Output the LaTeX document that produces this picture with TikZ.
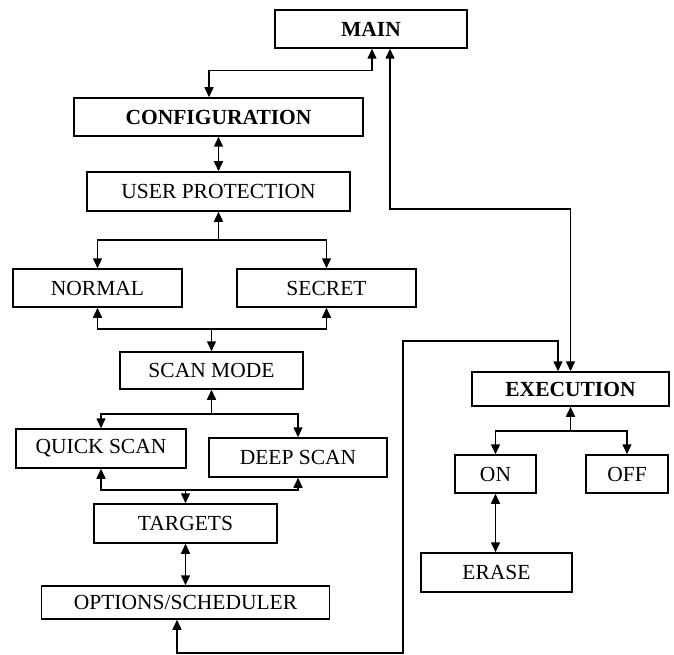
\documentclass[tikz,border=0pt]{standalone}
\usepackage{fontspec}
\setmainfont{Liberation Serif}
\usetikzlibrary{arrows.meta}

\begin{document}
\begin{tikzpicture}[x=1pt, y=-1pt,
    box/.style={draw, line width=1.5pt, inner sep=0pt, font=\fontsize{21.5}{24}\selectfont},
    boldbox/.style={box, font=\fontsize{21.5}{24}\selectfont\bfseries},
    link/.style={line width=1.5pt, -{Triangle[length=10pt, width=9pt]}},
    both/.style={line width=1.5pt, {Triangle[length=10pt, width=9pt]}-{Triangle[length=10pt, width=9pt]}}]
            \useasboundingbox (0, 0) rectangle (674, 655);

            \node[boldbox, minimum width=192, minimum height=38] (main) at (371, 29) {MAIN};
            \node[boldbox, minimum width=289, minimum height=38] (config) at (218.5, 117) {CONFIGURATION};
            \node[box, minimum width=263, minimum height=39] (user) at (218.5, 191.5) {USER PROTECTION};
            \node[box, minimum width=169, minimum height=38] (normal) at (97.5, 288) {NORMAL};
            \node[box, minimum width=179, minimum height=38] (secret) at (326.5, 288) {SECRET};
            \node[box, minimum width=183, minimum height=37] (scan) at (211.5, 370.5) {SCAN MODE};
            \node[box, minimum width=170, minimum height=39] (quick) at (101, 448.5) {QUICK SCAN};
            \node[box, minimum width=178, minimum height=39] (deep) at (298, 457.5) {DEEP SCAN};
            \node[box, minimum width=183, minimum height=39] (targets) at (185.5, 523.5) {TARGETS};
            \node[box, minimum width=288, minimum height=33] (opts) at (185.5, 602.5) {OPTIONS/SCHEDULER};
            \node[boldbox, minimum width=197, minimum height=34] (exec) at (570.5, 389) {EXECUTION};
            \node[box, minimum width=81, minimum height=38] (on) at (495.5, 474) {ON};
            \node[box, minimum width=82, minimum height=38] (off) at (627, 474) {OFF};
            \node[box, minimum width=151, minimum height=39] (erase) at (496.5, 572.5) {ERASE};

            \coordinate (uj) at (218.5, 240);
            \coordinate (nj) at (211.5, 329);
            \coordinate (sj) at (211.5, 414);
            \coordinate (tj) at (185.5, 490);
            \coordinate (ej) at (570.5, 431);

            \draw[both] ([xshift=1pt]main.south) -- ++(0, 22) -| ([xshift=-9.5pt]config.north);
            \draw[both] ([xshift=19pt]main.south) -- ++(0, 160) -| (exec.north);
            \draw[both] ([xshift=-8.5pt]opts.south) -- ++(0, 33) -| ++(226, -312) -| ([xshift=-12.5pt]exec.north);

            \draw[both] (config.south) -- (user.north);

            \draw[link] (uj) -- (user.south);
            \draw[link] (uj) -| (normal.north);
            \draw[link] (uj) -| (secret.north);

            \draw[link] (nj) -- (scan.north);
            \draw[link] (nj) -| (normal.south);
            \draw[link] (nj) -| (secret.south);

            \draw[link] (sj) -- (scan.south);
            \draw[link] (sj) -| (quick.north);
            \draw[link] (sj) -| (deep.north);

            \draw[link] (tj) -- (targets.north);
            \draw[link] (tj) -| (quick.south);
            \draw[link] (tj) -| (deep.south);

            \draw[both] (targets.south) -- (opts.north);

            \draw[link] (ej) -- (exec.south);
            \draw[link] (ej) -| (on.north);
            \draw[link] (ej) -| (off.north);

            \draw[both] (on.south) -- (on.south |- erase.north);
        \end{tikzpicture}
\end{document}
